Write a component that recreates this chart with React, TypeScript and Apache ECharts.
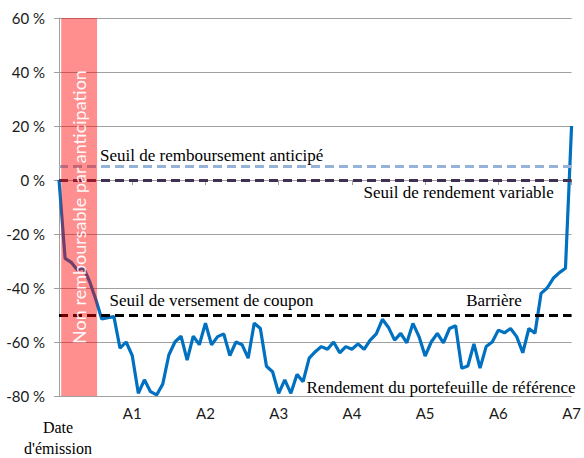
import React, { useEffect, useRef } from "react";
import * as echarts from "echarts";

// Tick labels of the x axis (one per year)
const xTickLabels = ["Date\nd'émission", "A1", "A2", "A3", "A4", "A5", "A6", "A7"];
const yTicks = [-80, -60, -40, -20, 0, 20, 40, 60];

// Monthly performance of the reference portfolio (%), month 0 .. 84
const portfolio = [
  0, -29, -30.5, -33.3, -32.5, -37.5, -44, -51.5, -51, -50.6,
  -62.3, -60, -65, -79, -74, -78.4, -79.6, -75.6, -64.8, -60,
  -57.8, -66.7, -57.8, -61, -53, -61, -58, -57, -65, -60,
  -61, -66, -53, -55, -69, -71, -79, -74, -79, -72,
  -74.7, -66, -63.6, -61.7, -62.7, -60, -64, -61.7, -62.7, -60.7,
  -62.7, -59.3, -57, -51.6, -54.6, -59.3, -56.8, -60.3, -53.1, -58,
  -65.2, -60, -56.8, -60.3, -55, -54, -69.7, -68.9, -60.7, -69.7,
  -61.7, -60, -55.6, -56.6, -55, -58, -64, -55, -56.8, -42,
  -40, -36.4, -34.3, -32.7, 20,
];

// Thresholds (%)
const thresholdEarly = 5;
const thresholdVariable = 0;
const thresholdCoupon = -50;

// Non-callable period (years)
const nonCallStart = 0.03;
const nonCallEnd = 0.52;
const nonCallText = "Non remboursable par anticipation";

// Annotations: [text, x (years), y (%)]
const annotations: [string, number, number][] = [
  ["Seuil de remboursement anticipé", 0.56, 8.9],
  ["Seuil de rendement variable", 4.16, -4.8],
  ["Seuil de versement de coupon", 0.69, -44.8],
  ["Barrière", 5.56, -44.8],
  ["Rendement du portefeuille de référence", 3.38, -76.7],
];

export default function App() {
  const ref = useRef<HTMLDivElement>(null);
  useEffect(() => {
    if (!ref.current) return;
    const chart = echarts.init(ref.current, undefined, { renderer: "svg" });
    const data = portfolio.map((v, i) => [i / 12, v]);
    const serif = "'Liberation Serif', 'Times New Roman', serif";
    const sans = "Lato, 'Open Sans', sans-serif";
    chart.setOption({
      animation: false,
      grid: { left: 59, right: 10, top: 18, bottom: 62, containLabel: false },
      xAxis: {
        type: "value",
        min: 0,
        max: 7,
        interval: 1,
        axisLine: { show: true, lineStyle: { color: "#a0a0a0", width: 1 } },
        axisTick: { show: true, length: 5, lineStyle: { color: "#a0a0a0" } },
        splitLine: { show: false },
        axisLabel: {
          margin: 9,
          fontFamily: sans,
          fontSize: 15,
          color: "#1a1a1a",
          formatter: (v: number) => {
            const i = Math.round(v);
            return i === 0 ? "" : xTickLabels[i];
          },
        },
      },
      yAxis: {
        type: "value",
        min: yTicks[0],
        max: yTicks[yTicks.length - 1],
        interval: 20,
        axisLine: { show: true, lineStyle: { color: "#a0a0a0", width: 1 } },
        axisTick: { show: true, length: 5, lineStyle: { color: "#a0a0a0" } },
        splitLine: { show: true, lineStyle: { color: "#a0a0a0", width: 1 } },
        axisLabel: {
          margin: 14,
          fontFamily: sans,
          fontSize: 15,
          color: "#1a1a1a",
          formatter: (v: number) => v + " %",
        },
      },
      series: [
        {
          type: "line",
          data,
          symbol: "none",
          z: 2,
          lineStyle: { color: "#0070C0", width: 3.2 },
          itemStyle: { color: "#0070C0" },
          markLine: {
            z: 3,
            silent: true,
            symbol: ["none", "none"],
            label: { show: false },
            data: [
              { yAxis: thresholdEarly, lineStyle: { color: "#95B3D7", type: [9, 5], width: 3 } },
              { yAxis: thresholdVariable, lineStyle: { color: "#403152", type: [9, 5], width: 3 } },
              { yAxis: thresholdCoupon, lineStyle: { color: "#000000", type: [9, 5], width: 3 } },
            ],
          },
          markArea: {
            z: 10,
            silent: true,
            itemStyle: { color: "rgba(255,0,0,0.44)" },
            label: {
              show: true,
              position: "inside",
              rotate: 90,
              color: "rgba(255,255,255,0.95)",
              fontFamily: sans,
              fontSize: 18,
            },
            data: [[
              { xAxis: nonCallStart, yAxis: yTicks[yTicks.length - 1], name: nonCallText },
              { xAxis: nonCallEnd, yAxis: yTicks[0] },
            ]],
          },
          markPoint: {
            z: 12,
            silent: true,
            symbol: "circle",
            symbolSize: 0,
            itemStyle: { color: "rgba(0,0,0,0)" },
            label: {
              show: true,
              position: "right",
              distance: 0,
              fontFamily: serif,
              fontSize: 17,
              color: "#000",
              formatter: (p: any) => p.name,
            },
            data: annotations.map(([t, x, y]) => ({ name: t, coord: [x, y] })),
          },
        },
      ],
    });
    const origin = chart.convertToPixel({ xAxisIndex: 0, yAxisIndex: 0 }, [0, yTicks[0]]) as number[];
    chart.setOption({
      graphic: [
        {
          type: "text",
          x: origin[0] - 1,
          y: origin[1] + 21,
          silent: true,
          style: {
            text: xTickLabels[0],
            align: "center",
            verticalAlign: "top",
            font: "16px 'Liberation Serif', 'Times New Roman', serif",
            lineHeight: 21,
            fill: "#000",
          },
        },
      ],
    });
    return () => chart.dispose();
  }, []);
  return <div ref={ref} style={{ width: 584, height: 458, position: "absolute", left: 0, top: 0 }} />;
}
